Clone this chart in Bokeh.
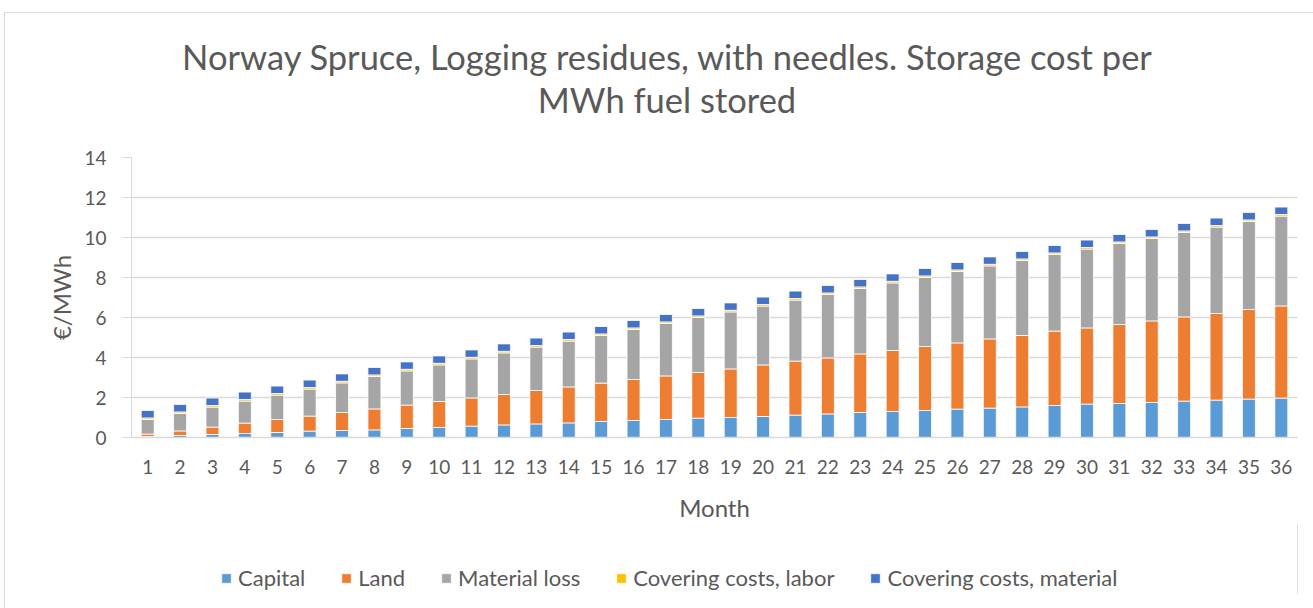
from bokeh.plotting import figure
from bokeh.models import (FactorRange, Range1d, Legend, LegendItem, Div,
                          FixedTicker, ColumnDataSource)
from bokeh.layouts import column
from bokeh.embed import file_html
from bokeh.resources import INLINE

months = [str(i) for i in range(1, 37)]
series_names = ["Capital", "Land", "Material loss",
                "Covering costs, labor", "Covering costs, material"]
title_lines = ["Norway Spruce, Logging residues, with needles. Storage cost per",
               "MWh fuel stored"]

capital = [0.05, 0.10, 0.15, 0.20, 0.25, 0.32, 0.35, 0.38, 0.45, 0.50, 0.57, 0.63,
           0.68, 0.73, 0.80, 0.85, 0.90, 0.97, 1.00, 1.05, 1.12, 1.18, 1.25, 1.30,
           1.35, 1.42, 1.47, 1.53, 1.60, 1.67, 1.70, 1.75, 1.82, 1.87, 1.92, 1.97]
land = [0.12, 0.23, 0.37, 0.52, 0.65, 0.75, 0.90, 1.05, 1.17, 1.30, 1.41, 1.52,
        1.67, 1.80, 1.92, 2.05, 2.18, 2.28, 2.43, 2.58, 2.70, 2.80, 2.93, 3.05,
        3.20, 3.31, 3.46, 3.57, 3.72, 3.81, 3.95, 4.08, 4.21, 4.33, 4.48, 4.61]
material_loss = [0.73, 0.87, 1.00, 1.10, 1.22, 1.35, 1.48, 1.62, 1.71, 1.83, 1.95, 2.08,
                 2.17, 2.29, 2.38, 2.50, 2.62, 2.75, 2.85, 2.94, 3.05, 3.17, 3.27, 3.38,
                 3.45, 3.57, 3.65, 3.75, 3.83, 3.94, 4.05, 4.12, 4.22, 4.32, 4.40, 4.49]
cover_labor = [0.08, 0.08, 0.08, 0.08, 0.08, 0.08, 0.08, 0.08, 0.08, 0.08, 0.08, 0.08,
               0.08, 0.08, 0.08, 0.08, 0.08, 0.08, 0.08, 0.08, 0.08, 0.08, 0.08, 0.08,
               0.08, 0.08, 0.08, 0.08, 0.08, 0.08, 0.08, 0.08, 0.08, 0.08, 0.08, 0.08]
cover_material = [0.37, 0.37, 0.37, 0.37, 0.37, 0.37, 0.37, 0.37, 0.37, 0.37, 0.37, 0.37,
                  0.37, 0.37, 0.37, 0.37, 0.37, 0.37, 0.37, 0.37, 0.37, 0.37, 0.37, 0.37,
                  0.37, 0.37, 0.37, 0.37, 0.37, 0.37, 0.37, 0.37, 0.37, 0.37, 0.37, 0.37]
y_ticks = [0, 2, 4, 6, 8, 10, 12, 14]

colors = ["#5B9BD5", "#ED7D31", "#A5A5A5", "#FFC000", "#4472C4"]
keys = ["capital", "land", "material_loss", "cover_labor", "cover_material"]
source = ColumnDataSource(dict(month=months, capital=capital, land=land,
                               material_loss=material_loss, cover_labor=cover_labor,
                               cover_material=cover_material))

FONT = "Lato"
TXT = "#595959"
GRID = "#d9d9d9"
W = 1305

title_div = Div(
    text=('<div style="position:absolute; left:4px; top:12px; width:1400px; height:800px; '
          'border:1px solid %s; box-sizing:border-box; z-index:10; pointer-events:none"></div>'
          '<div style="width:%dpx; padding-top:35px; padding-left:29px; box-sizing:border-box; '
          'text-align:center; font-family:Lato; font-size:34.5px; line-height:43px; '
          'color:%s; white-space:nowrap">%s<br>%s</div>') % (GRID, W, TXT, title_lines[0], title_lines[1]),
    width=W, height=122, margin=0)

p = figure(width=W, frame_width=1166, frame_height=280,
           x_range=FactorRange(*months), y_range=Range1d(0, 14),
           output_backend="svg", toolbar_location=None,
           min_border_left=131, min_border_right=8, min_border_top=35, min_border_bottom=0)
p.outline_line_color = None

renderers = p.vbar_stack(keys, x="month", width=0.4, color=colors, source=source,
                         line_color="white", line_width=0.8)

# axes
p.yaxis.ticker = FixedTicker(ticks=y_ticks)
p.yaxis.axis_line_color = GRID
p.yaxis.major_tick_line_color = GRID
p.yaxis.major_tick_out = 9
p.yaxis.major_tick_in = 0
p.yaxis.minor_tick_line_color = None
p.yaxis.major_label_standoff = 16
p.yaxis.axis_label = "€/MWh"
p.yaxis.axis_label_standoff = 5

p.xaxis.axis_line_color = GRID
p.xaxis.axis_line_width = 1.5
p.xaxis.major_tick_line_color = None
p.xaxis.major_label_standoff = 16
p.xaxis.axis_label = "Month"
p.xaxis.axis_label_standoff = 16

for ax in (p.xaxis, p.yaxis):
    ax.major_label_text_font = FONT
    ax.major_label_text_font_size = "19px"
    ax.major_label_text_color = TXT
    ax.axis_label_text_font = FONT
    ax.axis_label_text_font_size = "24px"
    ax.axis_label_text_font_style = "normal"
    ax.axis_label_text_color = TXT

p.xgrid.grid_line_color = None
p.ygrid.grid_line_color = GRID
p.ygrid.grid_line_width = 1.3

# legend strip below the chart (its own small figure, same series colours;
# the swatch glyphs sit outside its visible range, only the legend shows)
lg = figure(width=W, height=70, x_range=Range1d(0, 1), y_range=Range1d(0, 1),
            output_backend="svg", toolbar_location=None,
            x_axis_location=None, y_axis_location=None,
            min_border_left=0, min_border_right=0, min_border_top=0, min_border_bottom=0)
lg.outline_line_color = None
lg.xgrid.visible = False
lg.ygrid.visible = False
swatches = [lg.vbar(x=[5], top=[1], width=0.4, color=c, line_color="white", line_width=0.8)
            for c in colors]
legend = Legend(items=[LegendItem(label=n, renderers=[r]) for n, r in zip(series_names, swatches)],
                orientation="horizontal", location=(89, 3),
                label_text_font=FONT, label_text_font_size="22px", label_text_color=TXT,
                glyph_width=12, glyph_height=12, label_standoff=6, spacing=35,
                border_line_color=None, background_fill_alpha=0, margin=0, padding=6)
lg.add_layout(legend, "center")

layout = column(title_div, p, lg, spacing=0)
open("out.html", "w").write(file_html(layout, INLINE))
